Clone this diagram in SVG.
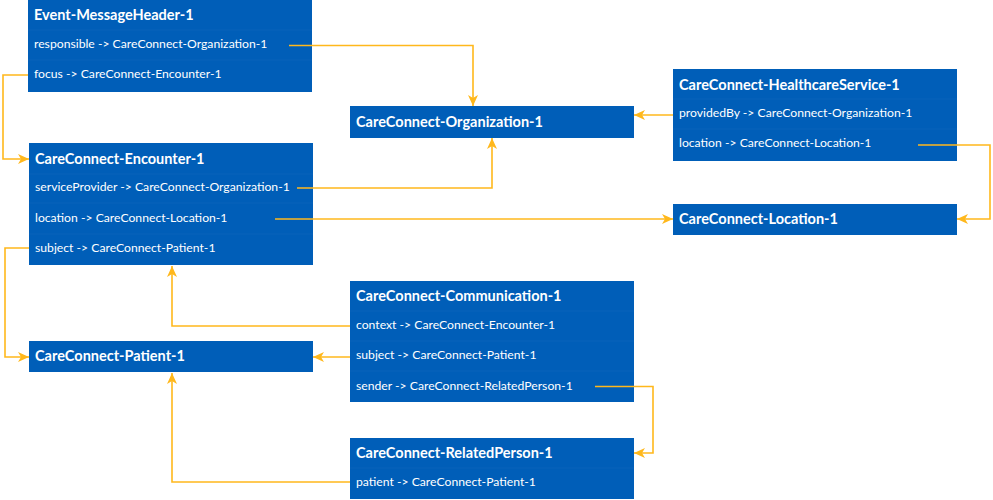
<svg xmlns="http://www.w3.org/2000/svg" width="993" height="500" viewBox="0 0 993 500">
  <defs>
    <marker id="arrow" markerUnits="userSpaceOnUse" markerWidth="12" markerHeight="10" refX="11" refY="5" orient="auto">
      <path d="M0,0 L11,5 L0,10 L3,5 Z" fill="#FFB81C"/>
    </marker>
    <style>
      .box { fill: #005EB8; }
      .div { stroke: #ffffff; stroke-opacity: 0.03; stroke-width: 1; }
      .title { font-family: Lato, "Liberation Sans", sans-serif; font-weight: bold; font-size: 14.5px; fill: #ffffff; }
      .row { font-family: Lato, "Liberation Sans", sans-serif; font-size: 12.2px; fill: #ffffff; }
      .link { fill: none; stroke: #FFB81C; stroke-width: 1.6; marker-end: url(#arrow); }
    </style>
  </defs>
  <rect width="993" height="500" fill="#ffffff"/>

  <g id="event-messageheader">
    <rect class="box" x="28" y="0" width="284" height="92"/>
    <line class="div" x1="28" y1="30" x2="312" y2="30"/>
    <line class="div" x1="28" y1="60" x2="312" y2="60"/>
    <text class="title" x="34" y="20">Event-MessageHeader-1</text>
    <text class="row" x="34" y="48">responsible -&gt; CareConnect-Organization-1</text>
    <text class="row" x="34" y="78">focus -&gt; CareConnect-Encounter-1</text>
  </g>

  <g id="organization">
    <rect class="box" x="350" y="106" width="284" height="32"/>
    <text class="title" x="356" y="126.5">CareConnect-Organization-1</text>
  </g>

  <g id="encounter">
    <rect class="box" x="29" y="143" width="284" height="122"/>
    <line class="div" x1="29" y1="174" x2="313" y2="174"/>
    <line class="div" x1="29" y1="203" x2="313" y2="203"/>
    <line class="div" x1="29" y1="234" x2="313" y2="234"/>
    <text class="title" x="35" y="164">CareConnect-Encounter-1</text>
    <text class="row" x="35" y="191">serviceProvider -&gt; CareConnect-Organization-1</text>
    <text class="row" x="35" y="222">location -&gt; CareConnect-Location-1</text>
    <text class="row" x="35" y="252">subject -&gt; CareConnect-Patient-1</text>
  </g>

  <g id="healthcareservice">
    <rect class="box" x="673" y="69" width="284" height="92"/>
    <line class="div" x1="673" y1="99" x2="957" y2="99"/>
    <line class="div" x1="673" y1="129" x2="957" y2="129"/>
    <text class="title" x="679" y="90">CareConnect-HealthcareService-1</text>
    <text class="row" x="679" y="117">providedBy -&gt; CareConnect-Organization-1</text>
    <text class="row" x="679" y="147">location -&gt; CareConnect-Location-1</text>
  </g>

  <g id="location">
    <rect class="box" x="673" y="204" width="284" height="31"/>
    <text class="title" x="679" y="224">CareConnect-Location-1</text>
  </g>

  <g id="patient">
    <rect class="box" x="29" y="341" width="284" height="31"/>
    <text class="title" x="35" y="361">CareConnect-Patient-1</text>
  </g>

  <g id="communication">
    <rect class="box" x="350" y="281" width="284" height="121"/>
    <line class="div" x1="350" y1="311" x2="634" y2="311"/>
    <line class="div" x1="350" y1="341" x2="634" y2="341"/>
    <line class="div" x1="350" y1="371" x2="634" y2="371"/>
    <text class="title" x="356" y="301">CareConnect-Communication-1</text>
    <text class="row" x="356" y="329">context -&gt; CareConnect-Encounter-1</text>
    <text class="row" x="356" y="359">subject -&gt; CareConnect-Patient-1</text>
    <text class="row" x="356" y="390">sender -&gt; CareConnect-RelatedPerson-1</text>
  </g>

  <g id="relatedperson">
    <rect class="box" x="350" y="438" width="284" height="61"/>
    <line class="div" x1="350" y1="468" x2="634" y2="468"/>
    <text class="title" x="356" y="458">CareConnect-RelatedPerson-1</text>
    <text class="row" x="356" y="486">patient -&gt; CareConnect-Patient-1</text>
  </g>

  <!-- links start just after each row's label, so they are drawn above the boxes -->
  <g id="connectors">
    <path class="link" d="M289,45.5 H473 V106"/>
    <path class="link" d="M28,75 H3 V159 H29"/>
    <path class="link" d="M297,188 H492 V138"/>
    <path class="link" d="M275,219 H673"/>
    <path class="link" d="M29,248 H5 V357 H29"/>
    <path class="link" d="M350,326 H172 V266"/>
    <path class="link" d="M350,357 H313"/>
    <path class="link" d="M595,386.5 H653 V453 H634"/>
    <path class="link" d="M350,482 H172 V373"/>
    <path class="link" d="M673,115 H634"/>
    <path class="link" d="M918,145 H990 V219 H957"/>
  </g>
</svg>
